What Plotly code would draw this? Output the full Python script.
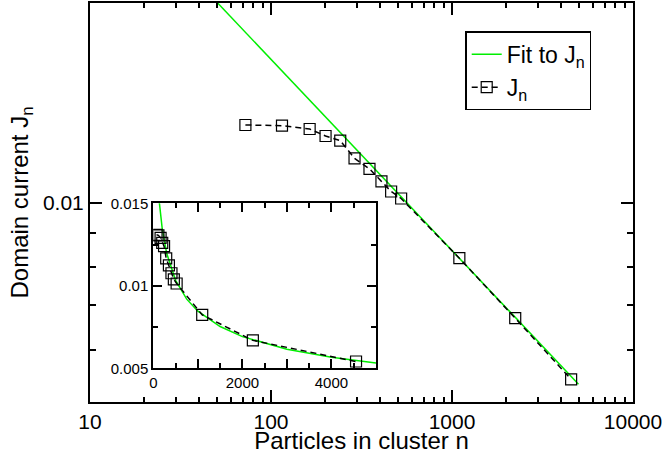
import plotly.graph_objects as go

# Data
n_data = [72.2, 115, 163.5, 200.2, 241.3, 289.4, 350, 407.6, 461, 523.6, 1098, 2235, 4552]
J_data = [0.01309, 0.01306, 0.01291, 0.01260, 0.01240, 0.01166, 0.01124, 0.01076,
          0.01039, 0.01014, 0.00824, 0.00669, 0.00541]

# Fit curve
n_fit = [40, 137, 200, 300, 500, 750, 1000, 1500, 2000, 3000, 4000, 5000]
J_fit = [0.02142, 0.01501, 0.01346, 0.01197, 0.01033, 0.00919, 0.00846, 0.00753,
         0.00692, 0.00616, 0.00567, 0.00532]

main_xticks = [10, 100, 1000, 10000]
main_xticklabels = ["10", "100", "1000", "10000"]
main_xminor = [20, 30, 40, 50, 60, 70, 80, 90, 200, 300, 400, 500, 600, 700, 800, 900,
               2000, 3000, 4000, 5000, 6000, 7000, 8000, 9000]
main_yticks = [0.01]
main_yticklabels = ["0.01"]
main_yminor = [0.006, 0.007, 0.008, 0.009]

inset_xticks = [0, 1000, 2000, 3000, 4000, 5000]
inset_xticklabels = ["0", "", "2000", "", "4000", ""]
inset_yticks = [0.005, 0.01, 0.015]
inset_yticklabels = ["0.005", "0.01", "0.015"]
inset_yminor = [0.0075, 0.0125]

GREEN = "#00ee00"
FONT = "Liberation Sans Narrow, Arial Narrow, Liberation Sans, Arial, sans-serif"

fig = go.Figure()
fig.add_trace(go.Scatter(x=n_fit, y=J_fit, mode="lines", name="Fit to J<sub>n</sub>",
                         line=dict(color=GREEN, width=1.5)))
fig.add_trace(go.Scatter(x=n_data, y=J_data, mode="lines+markers", name="J<sub>n</sub>",
                         line=dict(color="black", width=1.5, dash="6px,4px"),
                         marker=dict(symbol="square-open", size=11, color="black",
                                     line=dict(width=1.2, color="black"))))
fig.add_trace(go.Scatter(x=n_fit, y=J_fit, mode="lines", showlegend=False,
                         xaxis="x2", yaxis="y2", line=dict(color=GREEN, width=1.5)))
fig.add_trace(go.Scatter(x=n_data, y=J_data, mode="lines+markers", showlegend=False,
                         xaxis="x2", yaxis="y2",
                         line=dict(color="black", width=1.5, dash="6px,4px"),
                         marker=dict(symbol="square-open", size=11, color="black",
                                     line=dict(width=1.2, color="black"))))

fig.update_layout(
    width=667, height=454,
    margin=dict(l=90, r=34, t=3, b=52, autoexpand=False),
    paper_bgcolor="white", plot_bgcolor="white",
    font=dict(family=FONT, color="black", size=21),
    legend=dict(x=0.691, y=0.929, xanchor="left", yanchor="top",
                bordercolor="black", borderwidth=1.5, bgcolor="white",
                tracegroupgap=0, itemwidth=30,
                font=dict(size=23, family=FONT)),
    xaxis=dict(type="log", range=[1, 4], domain=[0, 1], anchor="y", automargin=False,
               showline=True, linewidth=2, linecolor="black", mirror="allticks",
               ticks="inside", ticklen=12, tickwidth=1.5, tickcolor="black",
               tickvals=main_xticks, ticktext=main_xticklabels,
               tickfont=dict(size=21), showgrid=False, zeroline=False,
               minor=dict(tickvals=main_xminor, ticks="inside", ticklen=5,
                          tickwidth=1.5, tickcolor="black", showgrid=False),
               title=dict(text="Particles in cluster n", font=dict(size=24), standoff=6)),
    yaxis=dict(type="log", range=[-2.30103, -1.69897], domain=[0, 1], anchor="x", automargin=False,
               showline=True, linewidth=2, linecolor="black", mirror="allticks",
               ticks="inside", ticklen=12, tickwidth=1.5, tickcolor="black",
               tickvals=main_yticks, ticktext=main_yticklabels,
               tickfont=dict(size=21), showgrid=False, zeroline=False,
               minor=dict(tickvals=main_yminor, ticks="inside", ticklen=6,
                          tickwidth=1.5, tickcolor="black", showgrid=False),
               title=dict(text="Domain current J<sub>n</sub>", font=dict(size=24), standoff=8)),
    xaxis2=dict(range=[0, 5000], domain=[0.1166, 0.5267], anchor="y2", automargin=False,
                showline=True, linewidth=2, linecolor="black", mirror="allticks",
                ticks="inside", ticklen=9, tickwidth=1.5, tickcolor="black",
                tickvals=inset_xticks, ticktext=inset_xticklabels,
                tickfont=dict(size=15), showgrid=False, zeroline=False,
                minor=dict(dtick=500, tick0=0, ticks="inside", ticklen=5,
                           tickwidth=1.5, tickcolor="black", showgrid=False)),
    yaxis2=dict(range=[0.005, 0.015], domain=[0.0845, 0.498], anchor="x2", automargin=False,
                showline=True, linewidth=2, linecolor="black", mirror="allticks",
                ticks="inside", ticklen=9, tickwidth=1.5, tickcolor="black",
                tickvals=inset_yticks, ticktext=inset_yticklabels,
                tickfont=dict(size=15), showgrid=False, zeroline=False,
                minor=dict(tickvals=inset_yminor, ticks="inside", ticklen=5,
                           tickwidth=1.5, tickcolor="black", showgrid=False)),
)

fig.write_html("out.html", config={"displayModeBar": False},
               post_script="document.body.style.margin='0px';document.body.style.overflow='hidden';")
